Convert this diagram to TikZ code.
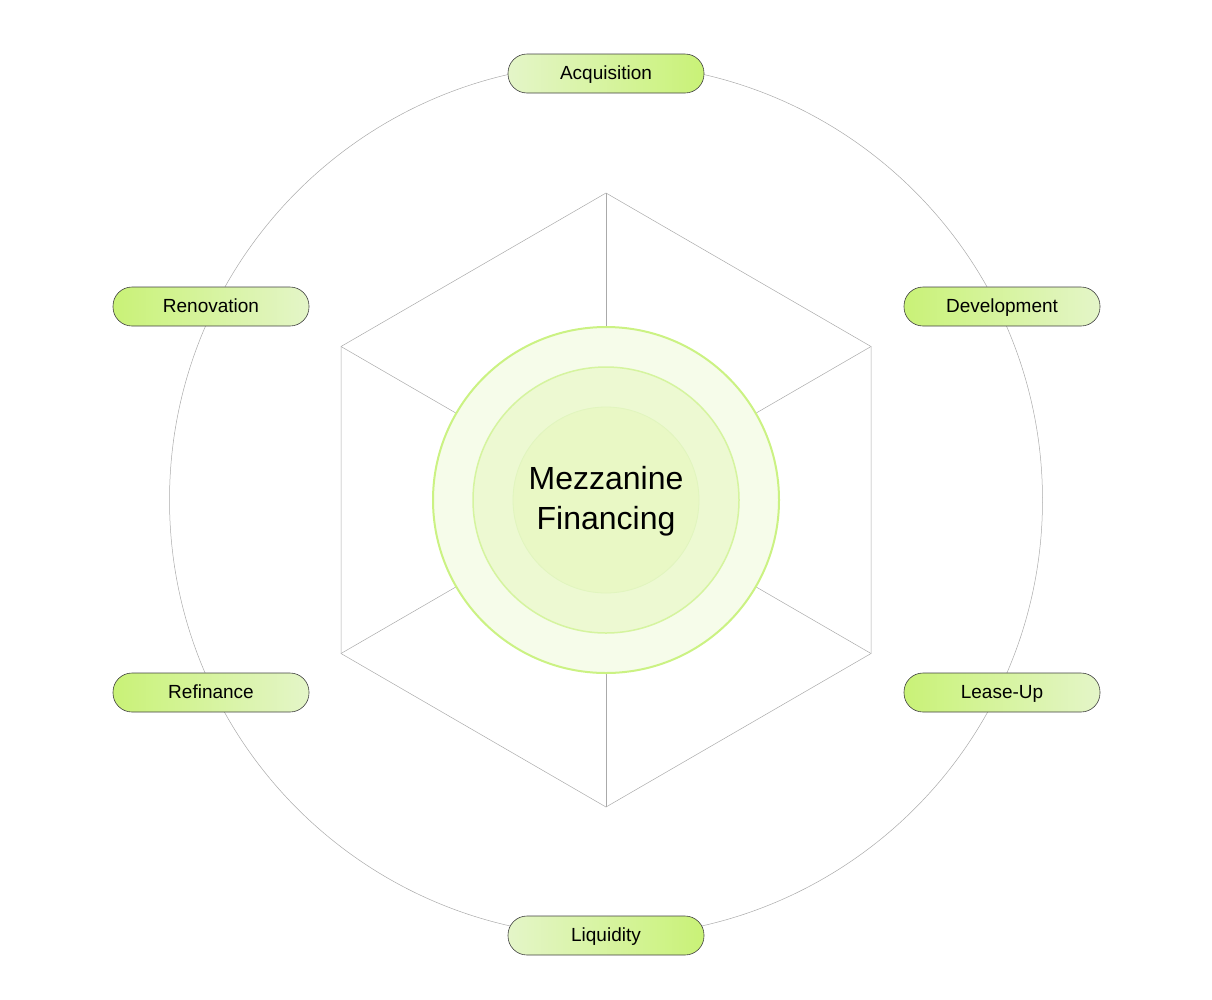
\documentclass[tikz,border=0pt]{standalone}
\usepackage{fontspec}
\setmainfont{Liberation Sans}
\usetikzlibrary{calc}
\definecolor{bright}{HTML}{C9F277}
\definecolor{light}{HTML}{E4F5C8}
\definecolor{ring}{HTML}{CBF283}
\definecolor{ringB}{HTML}{D5F49F}
\definecolor{ringC}{HTML}{E1F5BE}
\definecolor{fillA}{HTML}{F6FCEA}
\definecolor{fillB}{HTML}{EDF9D2}
\definecolor{fillC}{HTML}{E9F8C5}
\definecolor{guide}{HTML}{AAAAAA}
\begin{document}
\begin{tikzpicture}[x=1pt,y=-1pt,
  guideline/.style={draw=guide,line width=0.5pt},
  pill/.style={draw=black!75,line width=0.6pt,rounded corners=19pt,minimum width=196pt,minimum height=39pt,inner sep=0pt,text height=14pt,text depth=3pt,font=\fontsize{19}{22}\selectfont},
  pillLR/.style={pill,left color=light,right color=bright},
  pillRL/.style={pill,left color=bright,right color=light}]
\useasboundingbox (0,0) rectangle (1212,999);
\coordinate (c) at (606,500);
% outer circle
\draw[guideline] (c) circle[radius=436.5];
% hexagon
\coordinate (h1) at (606,193);
\coordinate (h2) at (871,346.5);
\coordinate (h3) at (871,653.5);
\coordinate (h4) at (606,807);
\coordinate (h5) at (341,653.5);
\coordinate (h6) at (341,346.5);
\draw[guideline] (h1) -- (h2) -- (h3) -- (h4) -- (h5) -- (h6) -- cycle;
\foreach \h in {h1,h2,h3,h4,h5,h6}{
  \draw[guideline] (\h) -- ($(c)!173pt!(\h)$);
}
% centre circles
\draw[draw=ring,line width=2pt,fill=fillA] (c) circle[radius=173];
\draw[draw=ringB,line width=1.5pt,fill=fillB] (c) circle[radius=133];
\draw[draw=ringC,line width=0.8pt,fill=fillC] (c) circle[radius=93];
\node[align=center,font=\fontsize{32}{40}\selectfont] (centre) at (606,501) {Mezzanine\\Financing};
% pills
\node[pillLR] (acq) at (606,73.5) {Acquisition};
\node[pillRL] (dev) at (1002,306.5) {Development};
\node[pillRL] (lease) at (1002,692.5) {Lease-Up};
\node[pillLR] (liq) at (606,935.5) {Liquidity};
\node[pillRL] (ref) at (211,692.5) {Refinance};
\node[pillRL] (ren) at (211,306.5) {Renovation};
\end{tikzpicture}
\end{document}
